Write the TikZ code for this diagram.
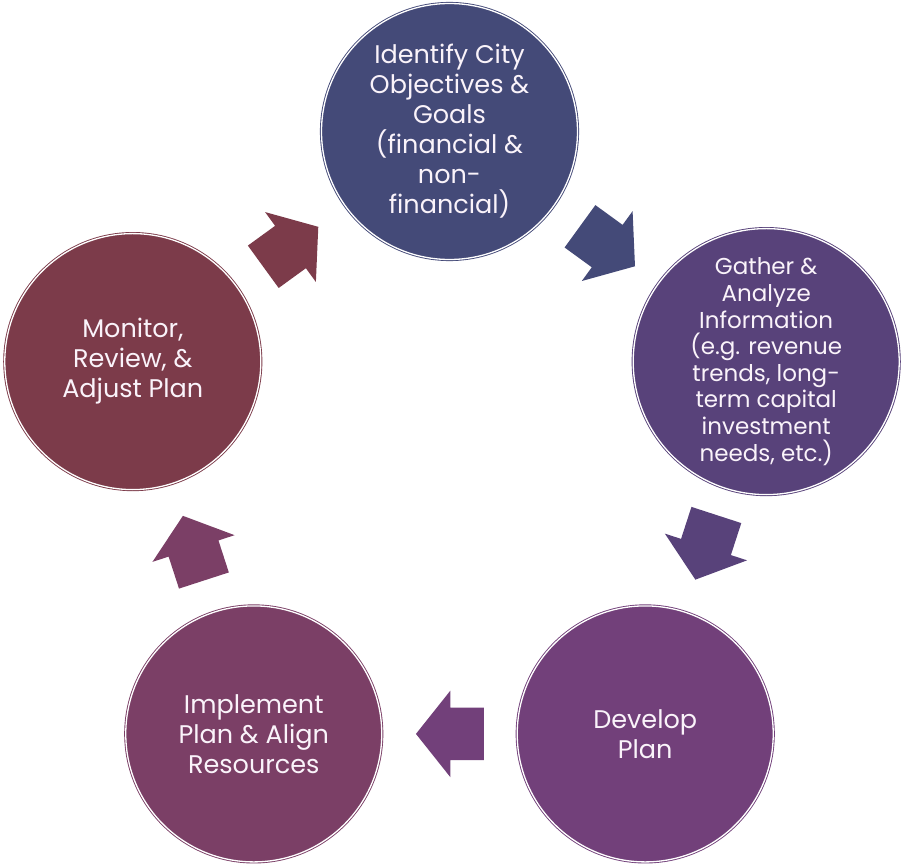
\documentclass[tikz,border=0pt]{standalone}
\usepackage{fontspec}
\setmainfont{Poppins}
\usepackage{tikz}
\usetikzlibrary{shapes.arrows}
\definecolor{goalcol}{RGB}{68,74,120}
\definecolor{infocol}{RGB}{88,66,122}
\definecolor{plancol}{RGB}{114,64,122}
\definecolor{implcol}{RGB}{123,63,102}
\definecolor{moncol}{RGB}{124,59,74}
\definecolor{txtcol}{RGB}{250,243,250}
\tikzset{stage/.style = {circle,draw=#1,fill=#1,double=white,double distance=1.3pt,line width=0.9pt,
    minimum size=256pt,inner sep=0pt,align=center,text=txtcol,font=\fontsize{25.5}{30}\selectfont}}
\tikzset{blockarrow/.style = {single arrow,fill=#1,draw=none,minimum height=68pt,
    single arrow head extend=17pt,single arrow tip angle=103,inner xsep=0pt,inner ysep=26pt,
    outer sep=0pt,sloped,allow upside down,anchor=tail,pos=0.412}}

\begin{document}
\begin{tikzpicture}[x=1pt,y=1pt]
    \useasboundingbox (-449.5,-400.5) rectangle (454.5,464.5);
    \node[stage=goalcol] (1) at (90:333) {Identify City\\Objectives \&\\Goals\\(financial \&\\non-\\financial)};
    \node[stage=infocol,minimum size=266pt,font=\fontsize{23}{26.6}\selectfont] (2) at (18:333)
        {Gather \&\\Analyze\\Information\\(e.g. revenue\\trends, long-\\term capital\\investment\\needs, etc.)};
    \node[stage=plancol] (3) at (-54:333) {Develop\\Plan};
    \node[stage=implcol] (4) at (-126:333) {Implement\\Plan \& Align\\Resources};
    \node[stage=moncol] (5) at (162:333) {Monitor,\\Review, \&\\Adjust Plan};
    % arrows between the stages
    \path (1.center) -- node[blockarrow=goalcol] (a12) {} (2.center);
    \path (2.center) -- node[blockarrow=infocol] (a23) {} (3.center);
    \path (3.center) -- node[blockarrow=plancol] (a34) {} (4.center);
    \path (4.center) -- node[blockarrow=implcol] (a45) {} (5.center);
    \path (5.center) -- node[blockarrow=moncol] (a51) {} (1.center);
\end{tikzpicture}
\end{document}
